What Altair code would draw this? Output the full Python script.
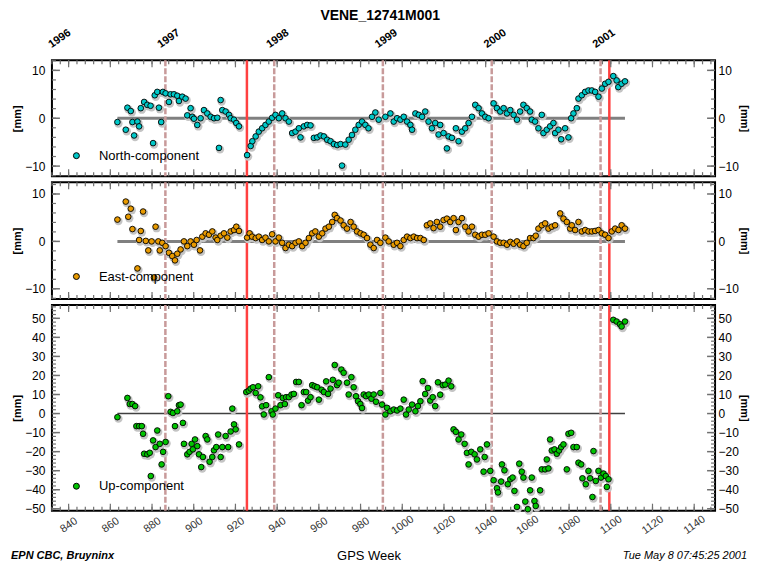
import altair as alt
import pandas as pd

TITLE = "VENE_12741M001"
FOOT_LEFT = "EPN CBC, Bruyninx"
FOOT_RIGHT = "Tue May  8 07:45:25 2001"
X_TITLE = "GPS Week"
Y_TITLE = "[mm]"
COMPONENTS = ["North-component", "East-component", "Up-component"]
COLORS = ["#00c8c8", "#e89a00", "#00c400"]

north_week = [863.4, 867.4, 868.2, 869.8, 870.6, 871.4, 873.0, 873.8, 874.6, 876.2, 877.7, 879.3, 880.5, 881.3,
              882.5, 883.3, 884.4, 885.2, 886.5, 888.1, 888.9, 890.5, 892.1, 892.9, 894.5, 896.1, 896.9, 898.5,
              899.3, 900.1, 901.7, 903.3, 904.9, 906.5, 908.1, 909.7, 911.3, 912.1, 912.9, 913.7, 915.3, 916.9,
              917.7, 919.3, 920.4, 921.7, 925.6, 927.3, 928.1, 929.7, 931.2, 932.8, 934.4, 936.0, 937.6, 939.2,
              940.8, 942.4, 944.0, 945.6, 947.2, 948.8, 950.4, 951.2, 952.8, 954.4, 956.0, 957.6, 959.2, 960.8,
              962.4, 964.0, 965.6, 967.2, 968.8, 970.4, 971.1, 972.7, 974.3, 975.9, 977.5, 979.1, 980.7, 982.3,
              983.8, 985.5, 987.1, 988.7, 991.9, 994.3, 995.9, 997.5, 999.1, 1000.7, 1002.3, 1003.9, 1004.7,
              1006.3, 1007.9, 1009.5, 1011.0, 1012.6, 1014.2, 1015.8, 1017.4, 1018.2, 1019.8, 1021.4, 1022.2,
              1023.8, 1025.7, 1027.0, 1028.6, 1030.2, 1031.8, 1033.4, 1035.0, 1036.6, 1038.2, 1039.8, 1041.4,
              1043.8, 1045.4, 1047.0, 1048.6, 1050.2, 1051.8, 1053.4, 1055.0, 1056.5, 1058.1, 1059.7, 1061.3,
              1062.1, 1063.7, 1065.3, 1066.9, 1067.7, 1069.3, 1070.9, 1072.5, 1073.3, 1074.9, 1076.2, 1078.1,
              1079.7, 1081.0, 1082.1, 1083.7, 1084.5, 1086.1, 1087.7, 1089.3, 1090.9, 1092.5, 1094.1, 1095.7,
              1097.3, 1098.9, 1101.2, 1102.8, 1103.6, 1105.2, 1106.8]
north_mm = [-0.8, -2.4, 2.2, 1.5, -0.8, -3.6, -0.7, -1.7, 2.1, 3.4, 2.8, 2.6, -5.2, 4.8,
            5.5, 2.2, -0.8, 5.5, 5.2, 3.4, 5.0, 5.0, 4.7, 3.6, 4.5, 4.1, 0.6, 2.1,
            0.3, -0.1, -1.4, 0.0, 1.7, 1.0, 0.3, 0.0, 0.1, -6.2, 3.8, 1.7, 1.4, 0.7,
            0.0, -0.3, -1.0, -1.7, -7.7, -5.8, -4.8, -3.8, -2.8, -2.1, -1.4, -0.7, 0.1, 0.7,
            0.0, 1.0, 0.0, -0.7, -3.1, -2.8, -2.1, -4.0, -1.7, -1.4, -1.5, -4.1, -4.0, -3.6,
            -3.8, -4.5, -4.8, -5.4, -5.6, -5.4, -9.9, -5.5, -4.5, -3.5, -2.4, -1.4, -0.7, -1.4,
            -2.1, 0.3, 1.2, -0.3, 0.3, 1.0, -0.7, 0.0, -0.3, 0.3, -0.7, -1.4, -2.4,
            1.0, 0.7, 0.3, 1.4, -0.7, -2.1, -1.0, -3.4, -1.4, -3.1, -6.3, -3.8,
            -4.1, -2.1, -4.8, -2.8, -2.1, -1.0, 0.3, 2.8, 2.1, 1.0, 0.3, 0.0,
            3.1, 2.1, 1.4, 2.1, 1.0, 1.7, 0.7, -0.3, 1.4, 2.8, 2.1, 1.4,
            -0.3, -0.7, -2.1, 0.7, -3.1, -2.4, -1.7, -1.0, -3.1, -2.4, -4.4, -2.1,
            -4.0, 0.0, 1.0, 2.1, 4.1, 4.8, 5.5, 5.8, 5.8, 5.5, 4.5, 6.2,
            7.2, 7.6, 8.8, 7.9, 6.5, 7.2, 7.7]

east_week = [863.4, 867.4, 868.6, 869.8, 870.6, 873.0, 873.8, 874.6, 875.7, 877.0, 878.2, 879.8, 880.9, 881.7,
             883.0, 883.7, 884.9, 886.5, 888.1, 889.7, 891.0, 892.1, 893.7, 895.3, 896.9, 898.5, 900.1, 901.4,
             903.0, 904.1, 905.7, 907.3, 908.9, 910.5, 911.3, 912.9, 914.5, 916.1, 917.7, 919.3, 920.4, 921.7,
             925.6, 926.8, 928.0, 929.7, 931.2, 932.8, 934.4, 936.0, 937.6, 939.2, 940.8, 942.4, 944.0, 945.6,
             947.2, 948.8, 950.4, 952.0, 953.6, 955.2, 956.8, 958.3, 960.0, 961.6, 963.2, 964.8, 966.4, 967.6,
             968.7, 970.4, 971.9, 973.5, 975.2, 976.7, 978.3, 980.0, 981.5, 983.1, 984.7, 986.3, 987.9,
             989.5, 991.9, 993.5, 995.9, 997.5, 999.1, 1000.7, 1002.3, 1003.9, 1005.5, 1007.1, 1008.7, 1010.3,
             1011.8, 1013.4, 1015.0, 1016.6, 1018.2, 1019.8, 1021.4, 1023.0, 1024.6, 1025.7, 1027.0, 1028.6,
             1030.2, 1031.8, 1033.4, 1035.0, 1036.6, 1038.2, 1039.8, 1041.4, 1043.8, 1045.4, 1047.0, 1048.6,
             1050.2, 1051.8, 1053.4, 1055.0, 1056.5, 1058.1, 1059.7, 1061.3, 1062.9, 1064.0, 1065.3, 1066.9,
             1068.5, 1070.1, 1071.7, 1073.3, 1075.7, 1077.3, 1078.9, 1080.5, 1081.3, 1082.9, 1084.5, 1086.1,
             1087.7, 1089.3, 1090.9, 1092.5, 1094.1, 1095.7, 1097.3, 1098.9, 1100.5, 1102.1, 1103.7, 1105.2,
             1106.8]
east_mm = [4.6, 8.4, 5.2, 6.9, 2.6, -5.7, 0.3, 2.2, 6.3, 0.1, -1.9, 0.0, -7.6, 3.1,
           0.0, -1.9, -0.3, -1.0, -2.4, -3.1, -4.0, -2.6, -1.7, 0.0, -1.0, 0.0, -0.7, 0.3,
           -1.9, 1.0, 1.7, 1.4, 2.1, 0.8, 0.3, 1.2, 1.7, 0.8, 2.1, 2.4, 3.1, 2.2,
           0.8, 1.7, 1.0, 0.7, 1.0, 0.3, 0.8, 0.0, 1.5, 0.0, 0.8, -0.3, -1.4, -0.7,
           -1.0, -0.3, 0.0, -1.0, -0.3, 0.7, 1.7, 2.1, 1.0, 1.7, 2.7, 3.1, 4.1, 5.6,
           4.9, 4.4, 3.4, 2.7, 4.1, 3.1, 2.1, 1.7, 1.4, 0.7, -0.7, -1.4, 0.3,
           -0.3, 0.8, 0.0, -0.7, -0.3, -1.0, 0.3, 1.0, 0.7, 1.0, 0.7, 0.7, 0.3,
           3.4, 3.8, 2.8, 4.1, 3.1, 4.5, 4.8, 4.1, 4.9, 2.4, 4.1, 4.9,
           3.1, 2.1, 3.1, 1.4, 1.0, 1.4, 1.4, 1.7, 1.0, 0.0, -0.3, -0.3,
           -0.7, -0.1, -0.5, 0.0, -0.7, -1.0, -0.3, 0.7, 0.7, 1.2, 2.7, 3.4,
           3.8, 2.7, 3.1, 3.4, 5.9, 4.8, 4.1, 2.7, 3.4, 2.4, 4.1, 2.1,
           2.4, 2.1, 2.1, 2.2, 2.4, 1.7, 1.4, 0.7, 2.1, 2.7, 2.4, 3.4,
           2.7]

up_week = [863.4, 868.2, 869.3, 870.6, 871.9, 872.5, 873.8, 875.1, 875.7, 876.2, 877.7, 878.9, 879.4, 880.5,
           881.7, 882.5, 883.7, 884.6, 885.3, 886.5, 887.8, 888.9, 890.0, 891.0, 892.1, 892.9, 893.7, 894.8,
           895.3, 896.9, 898.0, 899.0, 899.6, 900.6, 901.7, 902.5, 903.6, 904.4, 905.7, 906.5, 907.6, 908.9,
           909.7, 910.8, 911.7, 912.9, 913.7, 915.3, 916.5, 917.7, 918.5, 919.3, 920.1, 921.7,
           925.2, 926.4, 927.3, 928.4, 929.7, 930.9, 932.0, 932.8, 933.6, 934.7, 936.0, 937.3, 937.9, 939.2,
           940.5, 941.6, 942.7, 943.7, 944.3, 945.6, 946.9, 948.0, 949.1, 950.4, 951.7, 952.8, 953.9, 954.8,
           956.0, 956.8, 958.0, 959.2, 960.0, 961.3, 962.4, 963.5, 964.4, 965.6, 966.7, 967.6, 968.7, 969.5,
           970.8, 971.9, 973.5, 974.3, 975.6, 976.7, 977.8, 978.8, 979.9, 980.7, 981.5, 982.6, 983.9, 985.2,
           986.3, 987.4, 989.5, 990.3, 991.9, 992.7, 994.3, 995.9, 997.5, 999.1, 1000.7, 1001.8, 1003.1,
           1004.7, 1006.3, 1007.5, 1008.7, 1009.8, 1011.0, 1012.3, 1013.4, 1014.6, 1015.8, 1017.1, 1018.2,
           1019.4, 1020.6, 1022.2, 1023.5, 1024.6, 1025.7, 1027.0, 1028.3, 1029.9, 1031.0, 1031.8, 1033.1,
           1034.7, 1035.8, 1037.4, 1039.0, 1039.5, 1040.6, 1042.2, 1043.8, 1045.4, 1045.9, 1047.4, 1047.8,
           1049.0, 1050.6, 1051.8, 1052.9, 1053.8, 1055.0, 1056.1, 1057.3, 1058.1, 1059.0, 1060.2, 1061.3,
           1062.1, 1063.4, 1064.0, 1066.1, 1066.9, 1068.5, 1069.3, 1070.1, 1070.9, 1071.7, 1073.0, 1074.1,
           1075.2, 1076.2, 1077.3, 1078.9, 1079.7, 1081.0, 1082.1, 1083.7, 1084.5, 1085.8, 1086.4, 1088.0,
           1089.3, 1090.1, 1091.2, 1091.7, 1092.8, 1094.1, 1095.3, 1096.5, 1097.6, 1098.1, 1098.9,
           1101.2, 1102.8, 1104.4, 1105.2, 1106.8]
up_mm = [-1.9, 8.2, 5.0, 5.0, 3.9, -6.6, -6.6, -6.6, -10.6, -21.1, -21.4, -20.6, -32.8, -14.1,
         -17.6, -8.9, -15.9, -26.7, -20.1, -14.9, 9.1, 0.9, 0.3, -6.6, 1.2, 4.4, 4.7, -4.9,
         -15.9, -21.4, -20.1, -15.9, -18.8, -13.6, -17.1, -21.4, -28.1, -22.8, -11.8, -13.6, -25.3, -22.8,
         -19.3, -17.6, -11.0, -22.8, -17.6, -11.8, -17.6, -9.4, 2.6, -5.7, -8.3, -16.2,
         11.3, 12.0, 13.1, 13.8, 10.8, 14.3, 8.5, 3.8, -0.5, 4.4, 19.1, 1.2, -0.5, 2.6,
         9.6, 4.4, 8.2, 5.0, 8.6, 8.6, 10.0, 10.3, 16.6, 16.6, 4.4, 11.3, 11.3, 6.8,
         8.6, 14.9, 14.3, 13.8, 7.3, 12.5, 11.3, 16.9, 10.3, 13.1, 17.7, 25.5, 14.9, 16.2,
         23.1, 21.4, 16.2, 10.0, 19.1, 13.8, 9.1, 6.5, 5.0, 2.9, 10.0, 9.1, 10.0, 7.8,
         10.0, 6.2, 10.8, 4.7, -0.5, 3.0, 1.2, 2.1, 1.6, 2.6, 7.3, -0.5, 2.1,
         4.7, 1.2, 3.9, 6.5, 17.0, 10.3, 13.4, 6.8, 8.6, 3.9, 16.4, 9.9,
         14.9, 15.2, 17.3, 14.3, -8.3, -9.6, -13.6, -11.0, -15.9, -20.6, -26.7, -20.1,
         -21.4, -24.1, -18.8, -30.5, -22.8, -16.2, -30.1, -35.0, -39.2, -41.4, -35.7, -26.7,
         -29.8, -37.1, -34.5, -33.6, -40.6, -49.0, -26.3, -30.5, -33.6, -46.2, -50.2, -40.3,
         -33.6, -45.9, -48.5, -40.3, -29.3, -29.3, -24.1, -28.8, -13.6, -19.4, -18.8, -21.1,
         -19.4, -17.6, -16.2, -29.3, -10.6, -10.1, -17.6, -17.6, -25.8, -26.7, -34.0, -37.1,
         -30.1, -34.0, -43.8, -19.7, -35.4, -30.1, -33.6, -31.5, -32.8, -38.5, -34.5,
         49.2, 48.3, 46.9, 45.7, 48.3]

year_weeks = [834.1, 886.4, 938.6, 990.7, 1042.9, 1095.1]
year_labels = ["1996", "1997", "1998", "1999", "2000", "2001"]
red_weeks = [925.5, 1099.3]
week_major = [840, 860, 880, 900, 920, 940, 960, 980, 1000, 1020, 1040, 1060, 1080, 1100, 1120, 1140]
week_minor = list(range(832, 1151, 4))
X_DOMAIN = [832, 1150]

FONT = "Liberation Sans"
TICK = "#707070"
W = 664
H1, H2, H3 = 116, 117, 206


def year_label_expr():
    expr = "''"
    for w, lab in reversed(list(zip(year_weeks, year_labels))):
        expr = f"datum.value < {w + 1} ? '{lab}' : " + expr
    return expr


def panel(weeks, vals, comp, color, ydom, H, y_major, y_minor, xaxis, zero_color, zero_width, legend_y,
          extra=()):
    xs = alt.Scale(domain=X_DOMAIN, nice=False, zero=False)
    ys = alt.Scale(domain=ydom, nice=False, zero=False)
    df = pd.DataFrame({"week": weeks, "mm": vals, "comp": [comp] * len(weeks)})
    layers = []

    # zero line over the data span
    zero = pd.DataFrame({"week": [min(weeks), max(weeks)], "mm": [0, 0]})
    layers.append(alt.Chart(zero).mark_line(color=zero_color, strokeWidth=zero_width).encode(
        x=alt.X("week:Q", scale=xs, axis=None), y=alt.Y("mm:Q", scale=ys, axis=None)))

    # year boundaries (dashed) and red event lines
    yr = pd.DataFrame({"w": year_weeks[1:]})
    layers.append(alt.Chart(yr).mark_rule(color="#c89a9a", strokeWidth=2.5, strokeDash=[6, 2]).encode(
        x=alt.X("w:Q", scale=xs, axis=None)))
    rd = pd.DataFrame({"w": red_weeks})
    layers.append(alt.Chart(rd).mark_rule(color="#ff4040", strokeWidth=2.5).encode(
        x=alt.X("w:Q", scale=xs, axis=None)))

    # inward tick marks
    for vals_t, L in [(week_major, 7), (week_minor, 4)]:
        tdf = pd.DataFrame({"w": vals_t})
        base = alt.Chart(tdf).mark_rule(color=TICK, strokeWidth=1.2)
        layers.append(base.encode(x=alt.X("w:Q", scale=xs, axis=None), y=alt.value(0), y2=alt.value(L)))
        layers.append(base.encode(x=alt.X("w:Q", scale=xs, axis=None), y=alt.value(H), y2=alt.value(H - L)))
    tmin = pd.DataFrame({"v": y_minor})
    bmin = alt.Chart(tmin).mark_rule(color=TICK, strokeWidth=1.2)
    layers.append(bmin.encode(y=alt.Y("v:Q", scale=ys, axis=None), x=alt.value(0), x2=alt.value(4)))
    layers.append(bmin.encode(y=alt.Y("v:Q", scale=ys, axis=None), x=alt.value(W), x2=alt.value(W - 4)))
    tmaj = pd.DataFrame({"v": y_major})
    bmaj = alt.Chart(tmaj).mark_rule(color=TICK, strokeWidth=1.5)
    layers.append(bmaj.encode(y=alt.Y("v:Q", scale=ys, axis=None), x=alt.value(0), x2=alt.value(8)))
    layers.append(bmaj.encode(
        y=alt.Y("v:Q", scale=ys, axis=alt.Axis(orient="right", values=y_major, title=Y_TITLE,
                                                labelPadding=3, titlePadding=0, labelFlush=False)),
        x=alt.value(W), x2=alt.value(W - 8)))

    # shadow halo + points
    layers.append(alt.Chart(df).mark_circle(color="#c4c4c4", size=70, opacity=1, xOffset=1, yOffset=1.5).encode(
        x=alt.X("week:Q", scale=xs, axis=None), y=alt.Y("mm:Q", scale=ys, axis=None)))
    layers.append(alt.Chart(df).mark_circle(size=32, opacity=1, stroke="black", strokeWidth=0.9).encode(
        x=alt.X("week:Q", scale=xs, axis=xaxis),
        y=alt.Y("mm:Q", scale=ys, axis=alt.Axis(orient="left", values=y_major, title=Y_TITLE,
                                                 labelPadding=7, titlePadding=2, labelFlush=False)),
        color=alt.Color("comp:N", scale=alt.Scale(domain=[comp], range=[color]),
                        legend=alt.Legend(orient="none", legendX=18, legendY=legend_y, title=None,
                                          labelFontSize=13, labelFont=FONT, labelOffset=16,
                                          symbolType="circle", symbolSize=36, symbolStrokeColor="black",
                                          symbolStrokeWidth=1, symbolOpacity=1))))
    layers.extend(extra)
    return alt.layer(*layers).resolve_axis(x="independent", y="independent").properties(width=W, height=H)


top_axis = alt.Axis(orient="top", values=year_weeks, labelExpr=year_label_expr(), labelAngle=325,
                    labelAlign="center", labelBaseline="middle", labelPadding=22, labelOffset=3,
                    labelFontSize=11, labelFontWeight="bold", title=None, labelFlush=False)
bottom_axis = alt.Axis(orient="bottom", values=week_major, format="d", labelAngle=325, labelAlign="center",
                       labelBaseline="middle", labelPadding=14, labelFontSize=11, labelColor="#333333",
                       title=X_TITLE, titleFontSize=13, titleFontWeight="normal", titleX=317, titleY=45,
                       titleBaseline="middle", labelFlush=False)

foot = pd.DataFrame({"left": [FOOT_LEFT], "right": [FOOT_RIGHT]})
fl = alt.Chart(foot).mark_text(align="left", baseline="middle", font=FONT, fontSize=11, fontStyle="italic",
                               fontWeight="bold").encode(text="left:N", x=alt.value(-41), y=alt.value(H3 + 45))
fr = alt.Chart(foot).mark_text(align="right", baseline="middle", font=FONT, fontSize=11,
                               fontStyle="italic").encode(text="right:N", x=alt.value(696), y=alt.value(H3 + 45))

p1 = panel(north_week, north_mm, COMPONENTS[0], COLORS[0], [-12.1, 12.1], H1,
           [-10, 0, 10], list(range(-12, 13, 2)), top_axis, "#808080", 3, 89)
p2 = panel(east_week, east_mm, COMPONENTS[1], COLORS[1], [-12.15, 12.5], H2,
           [-10, 0, 10], list(range(-12, 13, 2)), None, "#808080", 3, 88)
p3 = panel(up_week, up_mm, COMPONENTS[2], COLORS[2], [-51, 57], H3,
           list(range(-50, 51, 10)), list(range(-50, 57, 2)), bottom_axis, "#404040", 1.5, 175,
           extra=(fl, fr))

chart = alt.vconcat(p1, p2, p3, spacing=0).resolve_scale(color="independent").properties(
    title=alt.TitleParams(TITLE, fontSize=14, fontWeight="bold", font=FONT, anchor="middle", offset=2),
    padding={"left": 2, "top": 1, "right": 0, "bottom": 0},
).configure_view(stroke="black", strokeWidth=2).configure_axis(
    domain=False, ticks=False, grid=False, labelFont=FONT, titleFont=FONT, labelFontSize=12,
    labelColor="black", titleFontSize=11, titleFontWeight="bold", titleColor="black")

chart.save("out.html", embed_options={"renderer": "svg", "actions": False})
